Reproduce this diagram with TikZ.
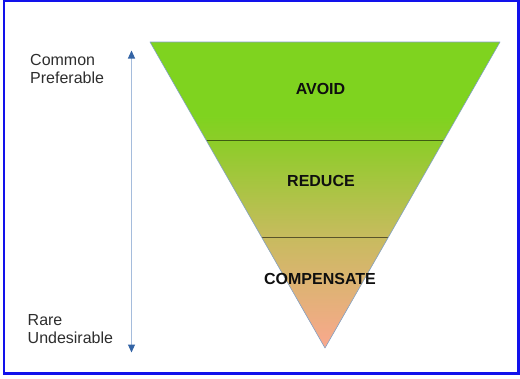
\documentclass[tikz,border=0pt]{standalone}
\usepackage{fontspec}
\setmainfont{Liberation Sans}
\usetikzlibrary{arrows.meta,calc}

\definecolor{frameblue}{RGB}{18,18,235}
\definecolor{edgeblue}{RGB}{130,160,195}
\definecolor{shaftblue}{RGB}{165,188,220}
\definecolor{tipblue}{RGB}{52,100,165}
\definecolor{sidegray}{RGB}{45,45,45}
\definecolor{levelblack}{RGB}{15,15,15}
\definecolor{funneltop}{RGB}{127,211,31}
\definecolor{funnelupper}{RGB}{140,205,40}
\definecolor{funnelmid}{RGB}{200,187,95}
\definecolor{funnelbot}{RGB}{250,168,142}

% green on top, fading to salmon at the tip
\pgfdeclareverticalshading{funnelshade}{100bp}{%
  color(0bp)=(funnelbot); color(25bp)=(funnelbot);
  color(43bp)=(funnelmid); color(59bp)=(funnelupper);
  color(63bp)=(funneltop); color(100bp)=(funneltop)}

\begin{document}
\begin{tikzpicture}[x=1pt,y=-1pt,
    level/.style={font=\fontsize{16}{18}\selectfont\bfseries, text=levelblack, inner sep=0pt},
    side/.style={font=\fontsize{16}{18}\selectfont, text=sidegray, align=left, inner sep=0pt, anchor=north west},
    divider/.style={draw=black, draw opacity=0.55, line width=0.8pt}]
  \useasboundingbox (0,0) rectangle (520,378);
  \draw[frameblue, line width=2.5pt] (4,1.2) rectangle (518.3,373.5);

  % funnel
  \coordinate (tl) at (150,42);
  \coordinate (tr) at (500,42);
  \coordinate (apex) at (325,348);
  \shade[shading=funnelshade] (tl) -- (tr) -- (apex) -- cycle;
  \draw[divider] ($(tl)!0.32!(apex)$) -- ($(tr)!0.32!(apex)$);
  \draw[divider] ($(tl)!0.64!(apex)$) -- ($(tr)!0.64!(apex)$);
  \draw[edgeblue, line width=0.6pt, line join=round] (tl) -- (tr) -- (apex) -- cycle;

  \node[level] (avoid) at (320.5,88.5) {AVOID};
  \node[level] (reduce) at (321,181) {REDUCE};
  \node[level] (compensate) at (320,279) {COMPENSATE};

  % scale on the left
  \coordinate (up) at (131.5,50.5);
  \coordinate (down) at (131.5,352.5);
  \draw[shaftblue, line width=1.2pt,
    {Triangle[length=8pt,width=7pt,color=tipblue]}-{Triangle[length=8pt,width=7pt,color=tipblue]}]
    (up) -- (down);

  \node[side] (common) at (30,54.5) {Common\\Preferable};
  \node[side] (rare) at (27.5,314.5) {Rare\\Undesirable};
\end{tikzpicture}
\end{document}
